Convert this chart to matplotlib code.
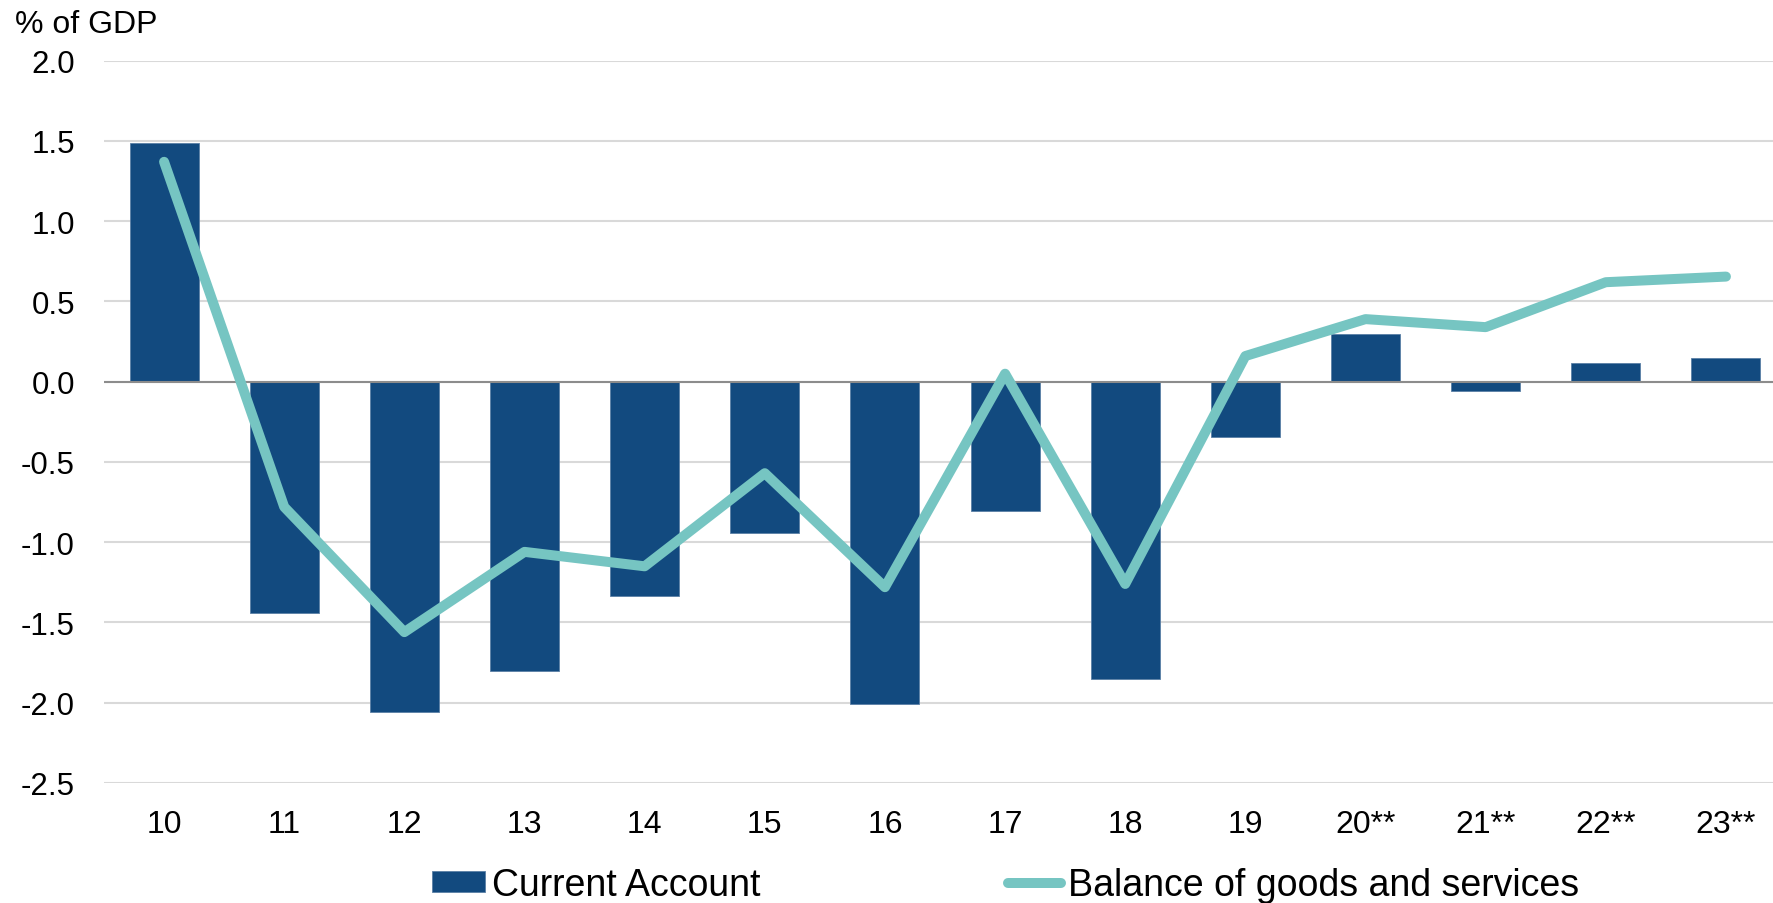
import numpy as np
import matplotlib.pyplot as plt

plt.rcParams['font.family'] = ['Liberation Sans', 'DejaVu Sans']

years = ["10", "11", "12", "13", "14", "15", "16", "17", "18", "19", "20**", "21**", "22**", "23**"]
current_account = [1.49, -1.44, -2.06, -1.80, -1.335, -0.94, -2.01, -0.805, -1.85, -0.345, 0.30, -0.06, 0.115, 0.15]
balance_gs = [1.37, -0.78, -1.56, -1.06, -1.15, -0.57, -1.28, 0.05, -1.26, 0.16, 0.39, 0.34, 0.62, 0.655]

bar_color = '#124a7f'
line_color = '#76c5c2'

fig = plt.figure(figsize=(17.73, 9.04), dpi=100)
ax = fig.add_axes([104/1773, 1-784/904, 1682/1773, (784-61.7)/904])

x = np.arange(len(years))
bars = ax.bar(x, current_account, width=0.575, color=bar_color, edgecolor='#5a7fa6', linewidth=0.6,
              label='Current Account', zorder=2)
line, = ax.plot(x, balance_gs, color=line_color, lw=7.2, solid_capstyle='round', solid_joinstyle='round',
                label='Balance of goods and services', zorder=3)

ax.set_xlim(-0.5, len(years)-0.5)
ax.set_ylim(-2.5, 2.0)
yt = np.arange(-2.5, 2.01, 0.5)
ax.set_yticks(yt)
ax.set_yticklabels(['%.1f' % v for v in yt])
ax.set_xticks(x)
ax.set_xticklabels(years)
ax.tick_params(axis='both', length=0)
ax.tick_params(axis='y', pad=21, labelsize=22.5)
ax.tick_params(axis='x', pad=19, labelsize=23)
ax.yaxis.grid(True, color='#d9d9d9', lw=1.5, zorder=0)
ax.set_axisbelow(True)
ax.axhline(0, color='#8c8c8c', lw=1.5, zorder=2.5)
for s in ax.spines.values():
    s.set_visible(False)

fig.text(15/1773, 1-33/904, '% of GDP', fontsize=23, va='baseline', ha='left')

fig.legend([bars, line], ['Current Account', 'Balance of goods and services'],
           loc='center left', bbox_to_anchor=(432/1773, 1-886/904), ncol=2, frameon=False,
           fontsize=27, handlelength=1.4, handleheight=0.48, handletextpad=0.2,
           columnspacing=6.6, borderpad=0, borderaxespad=0)

fig.savefig('out.png', dpi=100)
